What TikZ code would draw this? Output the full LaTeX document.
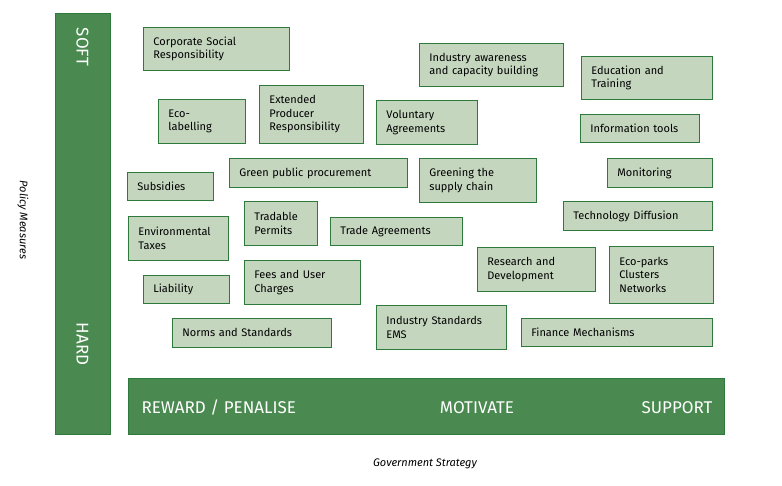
\documentclass[tikz,border=0pt]{standalone}
\usepackage{fontspec}
\setmainfont{Fira Sans}
\definecolor{dg}{HTML}{4A8A50}
\definecolor{lg}{HTML}{C5D6BF}
\definecolor{bd}{HTML}{2E7A3C}
\tikzset{
 bx/.style={draw=bd,fill=lg,line width=0.8pt,anchor=north west,inner sep=0pt,font=\fontsize{11}{13.5}\selectfont,align=left},
 bar/.style={fill=dg,draw=bd,anchor=north west,inner sep=0pt},
 bartxt/.style={text=white,font=\fontsize{17}{20}\selectfont}
}
\newcommand{\bxn}[7]{\node[bx,minimum width=#3,minimum height=#4,text width=#3-20] (#7) at (#1,#2) {#6#5};}
\begin{document}
\begin{tikzpicture}[x=1pt,y=-1pt]
\useasboundingbox (0,0) rectangle (782,486);
\node[bar,minimum width=55,minimum height=421] (vbar) at (55,13) {};
\node[bartxt,rotate=-90] (soft) at (82.5,47) {SOFT};
\node[bartxt,rotate=-90] (hard) at (82.5,344) {HARD};
\node[bar,minimum width=596,minimum height=56] (hbar) at (128,378) {};
\node[bartxt,anchor=west] (rp) at (138,408) {REWARD / PENALISE};
\node[bartxt] (mo) at (477,408) {MOTIVATE};
\node[bartxt,anchor=east] (su) at (716,408) {SUPPORT};
\node[rotate=-90,font=\itshape\fontsize{11}{13}\selectfont] (pm) at (23,220) {Policy Measures};
\node[font=\itshape\fontsize{11}{13}\selectfont] (gs) at (425,464) {Government Strategy};
\bxn{143}{27}{146}{43}{Corporate Social\\Responsibility}{}{a1}
\bxn{419}{43}{144}{43}{Industry awareness\\and capacity building}{}{a2}
\bxn{581}{56}{131}{43}{Education and\\Training}{}{a3}
\bxn{158}{99}{87}{44}{Eco-\\labelling}{}{a4}
\bxn{259}{85}{104}{58}{Extended\\Producer\\Responsibility}{}{a5}
\bxn{376}{100}{101}{44}{Voluntary\\Agreements}{}{a6}
\bxn{580}{114}{119}{28}{Information tools}{}{a7}
\bxn{127}{172}{86}{28}{Subsidies}{}{a8}
\bxn{229}{158}{178}{29}{Green public procurement}{}{a9}
\bxn{419}{158}{117}{44}{Greening the\\supply chain}{}{a10}
\bxn{607}{158}{105}{29}{Monitoring}{}{a11}
\bxn{128}{216}{100}{44}{Environmental\\Taxes}{}{a12}
\bxn{244}{201}{73}{44}{Tradable\\Permits}{}{a13}
\bxn{330}{217}{132}{28}{Trade Agreements}{\centering}{a14}
\bxn{563}{201}{149}{29}{Technology Diffusion}{\centering}{a15}
\bxn{477}{247}{118}{44}{Research and\\Development}{}{a16}
\bxn{609}{246}{104}{57}{Eco-parks\\Clusters\\Networks}{}{a17}
\bxn{143}{275}{86}{28}{Liability}{}{a18}
\bxn{244}{260}{116}{44}{Fees and User\\Charges}{}{a19}
\bxn{172}{318}{159}{29}{Norms and Standards}{\centering}{a20}
\bxn{376}{305}{130}{44}{Industry Standards\\EMS}{}{a21}
\bxn{521}{318}{191}{28}{Finance Mechanisms}{\centering}{a22}
\end{tikzpicture}
\end{document}
